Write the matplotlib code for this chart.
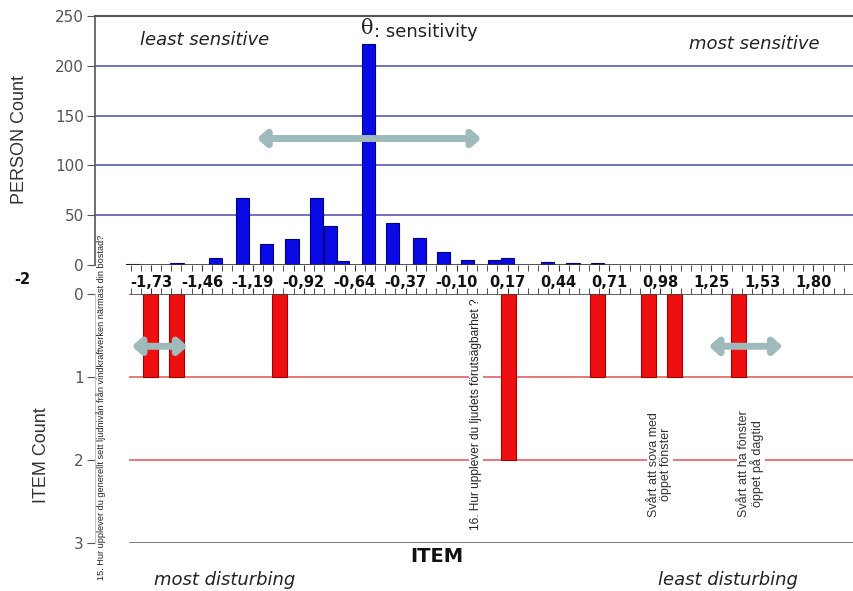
import numpy as np
import matplotlib.pyplot as plt

# dati (istogramma persone e item)
person_theta = [-1.825, -1.59, -1.385, -1.24, -1.115, -0.977, -0.845, -0.77, -0.71,
                -0.57, -0.44, -0.30, -0.17, -0.04, 0.10, 0.17, 0.385, 0.52, 0.65]
person_count = [1, 2, 7, 67, 21, 26, 67, 39, 4,
                222, 42, 27, 13, 5, 5, 7, 3, 2, 2]

item_theta = [-1.73, -1.59, -1.046, 0.178, 0.65, 0.92, 1.058, 1.40]
item_count = [1, 1, 1, 2, 1, 1, 1, 1]

tick_labels = ['-1,73', '-1,46', '-1,19', '-0,92', '-0,64', '-0,37', '-0,10',
               '0,17', '0,44', '0,71', '0,98', '1,25', '1,53', '1,80']
person_yticks = [0, 50, 100, 150, 200, 250]
item_yticks = [0, 1, 2, 3]

step = 0.2714
x_left, x_right = -2.0265, 1.996
narrow = 'Liberation Sans'

fig = plt.figure(figsize=(8.54, 5.91), dpi=100)
ax1 = fig.add_axes([95/854, 1-265/591, 759/854, 249/591])
ax2 = fig.add_axes([95/854, 1-543/591, 759/854, 249/591])

major = [-2 + (k+1)*step for k in range(len(tick_labels))]
minor = [-2 + k*step/5 for k in range(3, 75)]
line_start = 35/759

# pannello superiore: persone
ax1.bar(person_theta, person_count, width=0.07, color='#0a0ae6', edgecolor='#00007a', lw=0.8, zorder=3)
for g in [50, 100, 150, 200]:
    ax1.axhline(g, color='#6464b8', lw=1.3, zorder=1)
ax1.axhline(0, xmin=line_start, color='#333333', lw=1.2, zorder=4)
ax1.set_xlim(x_left, x_right)
ax1.set_ylim(0, 250)
ax1.set_yticks(person_yticks)
ax1.set_xticks(major)
ax1.set_xticklabels(tick_labels, fontsize=10.5, fontweight='bold', color='#111111')
ax1.set_xticks(minor, minor=True)
ax1.tick_params(axis='x', which='both', direction='out', length=4, pad=3, color='#333333')
ax1.tick_params(axis='y', labelsize=11, colors='#555555', length=6, pad=2)
for s in ['bottom', 'right']:
    ax1.spines[s].set_visible(False)
ax1.spines['top'].set_color('#555555')
ax1.spines['top'].set_linewidth(1.5)
ax1.spines['left'].set_color('#555555')
ax1.spines['left'].set_linewidth(1.2)
ax1.patch.set_alpha(0)

# frecce
arrow = dict(arrowstyle='<|-|>,head_length=0.5,head_width=0.45',
             color='#9fbaba', lw=5, shrinkA=0, shrinkB=0)
ax1.annotate('', xy=(-1.163, 127), xytext=(0.03, 127), arrowprops=arrow)
for a, b in [(-1.83, -1.534), (1.244, 1.636)]:
    ax2.annotate('', xy=(a, 0.63), xytext=(b, 0.63), arrowprops=arrow, zorder=5)

# pannello inferiore: item
ax2.bar(item_theta, item_count, width=0.08, color='#ee1010', edgecolor='#a00000', lw=0.8, zorder=3)
ax2.axhline(0, xmin=line_start, color='#444444', lw=1.2, zorder=4)
for g in [1, 2]:
    ax2.axhline(g, xmin=line_start, color='#e07070', lw=1.3, zorder=1)
ax2.axhline(3, xmin=line_start, color='#555555', lw=1.8, zorder=1)
ax2.set_xlim(x_left, x_right)
ax2.set_ylim(3, 0)
ax2.set_yticks(item_yticks)
ax2.xaxis.tick_top()
ax2.set_xticks(major)
ax2.set_xticks(minor, minor=True)
ax2.tick_params(axis='x', which='both', direction='out', length=4, labeltop=False, color='#333333')
ax2.tick_params(axis='y', labelsize=11, colors='#555555', length=6, pad=2)
for s in ['bottom', 'right', 'top']:
    ax2.spines[s].set_visible(False)
ax2.spines['left'].set_color('#b8c8d0')
ax2.patch.set_alpha(0)

# etichette degli item ruotate
fig.text(101/854, 1-580/591, '15. Hur upplever du generellt sett ljudnivån från vindkraftverken närmast din bostad?',
         rotation=90, ha='center', va='bottom', fontsize=6.6, family=narrow, color='#222222')
box = dict(facecolor='white', edgecolor='none', pad=1)
fig.text(476/854, 1-530/591, '16. Hur upplever du ljudets förutsägbarhet ?', rotation=90,
         ha='center', va='bottom', fontsize=8.6, family=narrow, color='#222222', bbox=box)
fig.text(660/854, 1-517/591, 'Svårt att sova med\nöppet fönster', rotation=90, ha='center', va='bottom',
         fontsize=9, family=narrow, color='#333333', linespacing=1.0, bbox=box)
fig.text(751/854, 1-517/591, 'Svårt att ha fönster\nöppet på dagtid', rotation=90, ha='center', va='bottom',
         fontsize=9, family=narrow, color='#333333', linespacing=1.0, bbox=box)

# testi
fig.text(22/854, 1-280/591, '-2', ha='center', va='center', fontsize=10.5, fontweight='bold', color='#111111')
fig.text(205/854, 1-40/591, 'least sensitive', ha='center', va='center', fontsize=13, style='italic', color='#222222')
fig.text(754/854, 1-44/591, 'most sensitive', ha='center', va='center', fontsize=13, style='italic', color='#222222')
fig.text(367/854, 1-29/591, 'θ', ha='center', va='center', fontsize=15, family='DejaVu Serif', color='#222222')
fig.text(374/854, 1-32/591, ': sensitivity', ha='left', va='center', fontsize=13, color='#222222')
fig.text(20/854, 1-140/591, 'PERSON Count', rotation=90, ha='center', va='center', fontsize=13, family=narrow, color='#333333')
fig.text(42/854, 1-455/591, 'ITEM Count', rotation=90, ha='center', va='center', fontsize=13, family=narrow, color='#333333')
fig.text(437/854, 1-556/591, 'ITEM', ha='center', va='center', fontsize=14, fontweight='bold', color='#111111')
fig.text(225/854, 1-580/591, 'most disturbing', ha='center', va='center', fontsize=13, style='italic', color='#222222')
fig.text(728/854, 1-580/591, 'least disturbing', ha='center', va='center', fontsize=13, style='italic', color='#222222')

fig.savefig('out.png', dpi=100)
